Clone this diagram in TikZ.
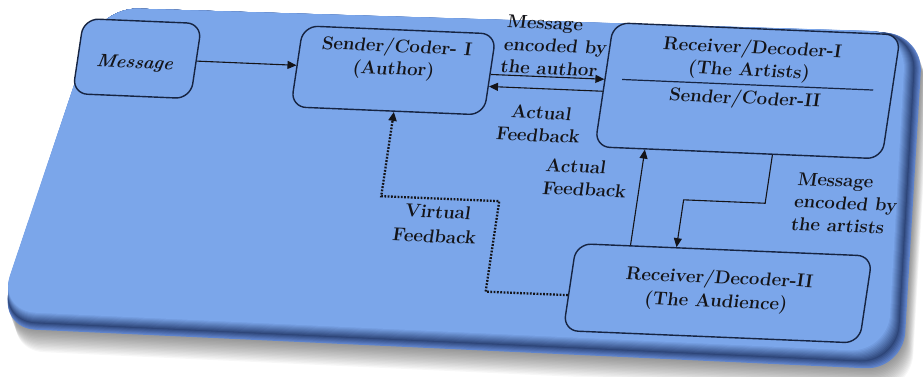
\documentclass[tikz,border=0pt]{standalone}
\usetikzlibrary{arrows.meta}

\definecolor{facecol}{RGB}{123,166,234}
\definecolor{rimdark}{RGB}{46,70,122}
\definecolor{rimedge}{RGB}{96,132,204}
\definecolor{boxline}{RGB}{22,36,66}
\definecolor{inkcol}{RGB}{20,20,24}

\tikzset{
  box/.style={draw=boxline, fill=facecol, line width=1.4pt, rounded corners=15pt, inner sep=0pt, transform shape},
  txt/.style={font=\fontsize{18.5}{22.5}\selectfont\bfseries, text=inkcol, align=center, inner sep=0pt, transform shape},
  arr/.style={draw=inkcol, line width=1.1pt, -{Triangle[length=9pt,width=8pt]}},
  dotarr/.style={draw=inkcol, line width=2.3pt, dash pattern=on 1.8pt off 1.5pt, -{Triangle[length=9pt,width=8pt]}},
  divider/.style={draw=boxline, line width=1.2pt},
}

\begin{document}
\begin{tikzpicture}[x=1pt,y=-1pt]
\useasboundingbox (0,0) rectangle (923,376);

% soft drop shadow under the slab
\foreach \k in {1,...,16}{
  \fill[black, opacity=0.03, shift={(0.5*\k,1.4*\k)}, rounded corners=38pt]
    (100,7.5) -- (923,34) -- (903,370) -- (-2,328) -- cycle;
}

% bevelled slab: outer rim fading into the flat face
\foreach \i in {0,...,16}{
  \pgfmathsetmacro\t{\i/16}
  \ifnum\i<6
    \pgfmathtruncatemacro\pa{100*\i/6}
    \colorlet{rimc}{rimdark!\pa!rimedge}
  \else
    \pgfmathtruncatemacro\pa{100*(\i-6)/10}
    \colorlet{rimc}{facecol!\pa!rimdark}
  \fi
  \fill[rimc, rounded corners=38pt]
    (100,7.5) -- (923-17*\t,34-2*\t) -- (903-15*\t,370-18*\t) -- (-2,328-17*\t) -- cycle;
}

% diagram, laid out flat and tilted onto the slab
\begin{scope}[cm={1,-0.042,0.15,1,(0,0)}]
  % boxes
  \node[box, minimum width=118pt, minimum height=75pt]  (msg) at (145,52.5) {};
  \node[box, minimum width=193pt, minimum height=81pt]  (snd) at (401.5,53.5) {};
  \node[box, minimum width=287pt, minimum height=124pt] (rc1) at (756.5,59) {};
  \node[box, minimum width=296pt, minimum height=87pt]  (rc2) at (757,261.5) {};

  % box texts
  \node[txt, font=\fontsize{18}{21}\selectfont\bfseries\itshape, anchor=base] (msgt) at (143.3,62) {Message};
  \node[txt] (sndt) at (401.5,42) {Sender/Coder- I\\(Author)};
  \node[txt] (rc1t) at (755,28.6) {Receiver/Decoder-I\\(The Artists)};
  \coordinate (divl) at (630,53);
  \coordinate (divr) at (881,53);
  \draw[divider] (divl) -- (divr);
  \node[txt, anchor=base] (rc1s) at (755,72.4) {Sender/Coder-II};
  \node[txt, font=\fontsize{18.5}{23.5}\selectfont\bfseries] (rc2t) at (756.5,259) {Receiver/Decoder-II\\(The Audience)};

  % connector labels
  \node[txt, align=left] (authl) at (559,22.5) {Message\\encoded by\\the author};
  \node[txt] (fb1l) at (555,100.6) {Actual\\Feedback};
  \node[txt, align=left] (fb2l) at (609,152.5) {Actual\\Feedback};
  \node[txt, align=left] (artl) at (871,166.8) {Message\\encoded by\\the artists};
  \node[txt, font=\fontsize{18.5}{24.5}\selectfont\bfseries] (virtl) at (467,204.4) {Virtual\\Feedback};

  % connectors
  \draw[arr] (msg.east) -- (msg.east -| snd.west);
  \draw[arr] (snd.east) -- (snd.east -| rc1.west);
  \coordinate (fbrow) at (0,65.5);
  \draw[arr] (rc1.west |- fbrow) -- (snd.east |- fbrow);
  \coordinate (fbx) at (663,0);
  \draw[arr] (rc2.north -| fbx) -- (rc1.south -| fbx);
  \coordinate (artx) at (790.5,0);
  \coordinate (artknee) at (709,170);
  \draw[arr] (rc1.south -| artx) |- (artknee) -- (rc2.north -| artknee);
  \coordinate (vrow) at (0,269.5);
  \coordinate (vknee) at (526,179);
  \coordinate (vx) at (408,0);
  \draw[dotarr] (rc2.west |- vrow) -| (vknee) -| (snd.south -| vx);
\end{scope}
\end{tikzpicture}
\end{document}
